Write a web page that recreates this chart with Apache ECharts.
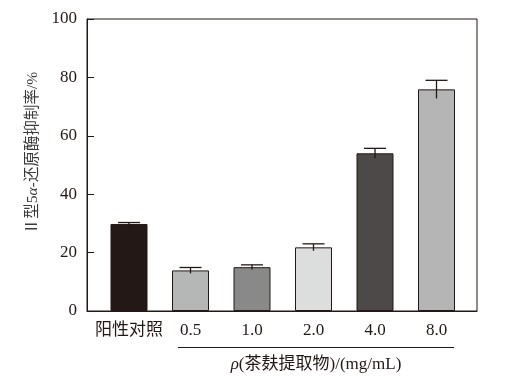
<!DOCTYPE html>
<html><head><meta charset="utf-8">
<script src="https://cdn.jsdelivr.net/npm/echarts@6/dist/echarts.min.js"></script>
<style>html,body{margin:0;padding:0;background:#fff}#c{width:508px;height:380px}</style>
</head><body><div id="c"></div>
<script>
const categories = ['阳性对照', '0.5', '1.0', '2.0', '4.0', '8.0'];
const values = [29.8, 13.9, 15.0, 21.8, 54.0, 75.9];
const errors = [0.5, 1.0, 0.8, 1.2, 1.7, 3.1];
const barColors = ['#231815', '#b5b6b6', '#898989', '#dcdddd', '#4c4948', '#b5b5b5'];
const yTicks = [0, 20, 40, 60, 80, 100];

const ink = '#231815';
const fontFam = '"Liberation Serif", "Noto Sans CJK SC", serif';
const chart = echarts.init(document.getElementById('c'));
chart.setOption({
  animation: false,
  backgroundColor: '#fff',
  grid: [
    {left: 87, top: 19, width: 390, height: 292, show: true, borderColor: ink, borderWidth: 1, backgroundColor: 'transparent'},
    {left: 98.25, top: 19, width: 369, height: 292}
  ],
  xAxis: [
    {gridIndex: 0, type: 'category', data: categories, axisLine: {show: true, lineStyle: {color: ink}}, axisTick: {show: false}, axisLabel: {show: false}},
    {gridIndex: 1, type: 'category', data: categories, axisLine: {show: false}, axisTick: {show: false},
      axisLabel: {show: true, interval: 0, margin: 11, color: ink, fontSize: 17, fontFamily: fontFam}}
  ],
  yAxis: [
    {gridIndex: 0, type: 'value', min: yTicks[0], max: yTicks[yTicks.length - 1], interval: 20,
      axisLine: {show: true, lineStyle: {color: ink}},
      axisTick: {show: true, inside: true, length: 7, lineStyle: {color: ink}},
      splitLine: {show: false},
      axisLabel: {margin: 10, color: ink, fontSize: 17, fontFamily: fontFam}},
    {gridIndex: 1, type: 'value', min: 0, max: 100, show: false}
  ],
  series: [
    {type: 'bar', xAxisIndex: 1, yAxisIndex: 1, barWidth: 37,
      data: values.map((v, i) => ({value: v, itemStyle: {color: barColors[i]}})),
      itemStyle: {borderColor: ink, borderWidth: 1}, z: 2},
    {type: 'custom', xAxisIndex: 1, yAxisIndex: 1, z: 3,
      data: values.map((v, i) => [i, v, errors[i]]),
      renderItem: function (params, api) {
        const i = api.value(0), v = api.value(1), e = api.value(2);
        const top = api.coord([i, v + e]);
        const bot = api.coord([i, v - e]);
        const hw = 11;
        const st = {stroke: ink, lineWidth: 1.3};
        return {type: 'group', children: [
          {type: 'line', shape: {x1: top[0], y1: top[1], x2: bot[0], y2: bot[1]}, style: st},
          {type: 'line', shape: {x1: top[0] - hw, y1: top[1], x2: top[0] + hw, y2: top[1]}, style: st}
        ]};
      }}
  ],
  graphic: [
    {type: 'text', x: 33, y: 153, rotation: Math.PI / 2,
      style: {text: 'Ⅱ型5{i|α}-还原酶抑制率/%', align: 'center', verticalAlign: 'middle',
        fill: '#3a3a3a', fontSize: 15.5, fontFamily: fontFam,
        rich: {i: {fontStyle: 'italic', fontSize: 15.5, fontFamily: fontFam, fill: '#3a3a3a'}}}},
    {type: 'line', shape: {x1: 178, y1: 347.5, x2: 454, y2: 347.5}, style: {stroke: ink, lineWidth: 1}},
    {type: 'text', x: 316, y: 365,
      style: {text: '{i|ρ}(茶麸提取物)/(mg/mL)', align: 'center', verticalAlign: 'middle',
        fill: ink, fontSize: 17, fontFamily: fontFam,
        rich: {i: {fontStyle: 'italic', fontSize: 17, fontFamily: fontFam, fill: ink}}}}
  ]
});
</script></body></html>
